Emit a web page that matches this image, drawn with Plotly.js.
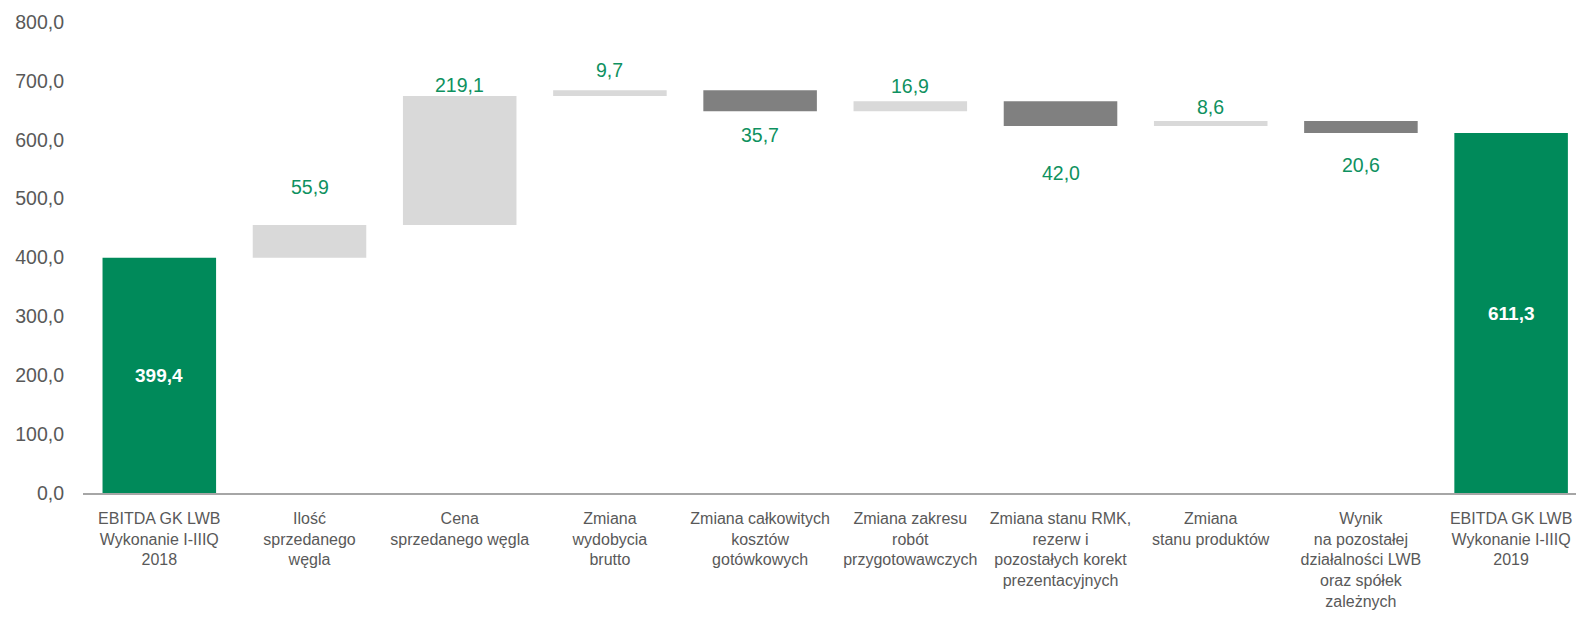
<!DOCTYPE html>
<html>
<head>
<meta charset="utf-8">
<script src="https://cdn.plot.ly/plotly-3.0.1.min.js"></script>
<style>html,body{margin:0;padding:0;background:#fff;}#chart{width:1576px;height:617px;}</style>
</head>
<body>
<div id="chart"></div>
<script>
const categories = [
  "EBITDA GK LWB<br>Wykonanie I-IIIQ<br>2018",
  "Ilość<br>sprzedanego<br>węgla",
  "Cena<br>sprzedanego węgla",
  "Zmiana<br>wydobycia<br>brutto",
  "Zmiana całkowitych<br>kosztów<br>gotówkowych",
  "Zmiana zakresu<br>robót<br>przygotowawczych",
  "Zmiana stanu RMK,<br>rezerw i<br>pozostałych korekt<br>prezentacyjnych",
  "Zmiana<br>stanu produktów",
  "Wynik<br>na pozostałej<br>działalności LWB<br>oraz spółek<br>zależnych",
  "EBITDA GK LWB<br>Wykonanie I-IIIQ<br>2019"
];
const measures = ["absolute","relative","relative","relative","relative","relative","relative","relative","relative","total"];
const values = [399.4, 55.9, 219.1, 9.7, -35.7, 16.9, -42.0, 8.6, -20.6, 611.3];
const yTicks = [0, 100, 200, 300, 400, 500, 600, 700, 800];
// label vertical offsets (px) relative to bar end
const labelShift = [0, 38, 11, 20, -24, 15.5, -47, 14, -32, 0];

const GREEN = "#008A5A";
const LABEL_GREEN = "#0E9160";
const FONT = "Liberation Sans, Arial, sans-serif";
const fmt = v => Math.abs(v).toFixed(1).replace(".", ",");

const trace = {
  type: "waterfall",
  x: categories,
  y: values,
  measure: measures,
  increasing: {marker: {color: "#D9D9D9"}},
  decreasing: {marker: {color: "#808080"}},
  totals: {marker: {color: GREEN}},
  connector: {visible: false},
  textinfo: "none",
  hoverinfo: "skip"
};

const annotations = [];
let run = 0;
values.forEach((v, i) => {
  if (measures[i] === "absolute") {
    run = v;
    annotations.push({x: categories[i], y: v / 2, text: "<b>" + fmt(v) + "</b>", showarrow: false,
      font: {family: FONT, size: 19, color: "#FFFFFF"}});
  } else if (measures[i] === "total") {
    annotations.push({x: categories[i], y: run / 2, text: "<b>" + fmt(run) + "</b>", showarrow: false,
      font: {family: FONT, size: 19, color: "#FFFFFF"}});
  } else {
    run += v;
    annotations.push({x: categories[i], y: run, yshift: labelShift[i], text: fmt(v), showarrow: false,
      font: {family: FONT, size: 19.5, color: LABEL_GREEN}});
  }
});

const layout = {
  width: 1576, height: 617,
  margin: {l: 83, r: 0, t: 22, b: 124, pad: 0},
  paper_bgcolor: "#FFFFFF", plot_bgcolor: "#FFFFFF",
  separators: ", ",
  showlegend: false,
  waterfallgap: 0.244,
  font: {family: FONT, color: "#595959"},
  xaxis: {
    type: "category",
    range: [-0.508, 9.432],
    showgrid: false, zeroline: false,
    showline: true, linecolor: "#A6A6A6", linewidth: 1.5,
    ticks: "", ticklabelstandoff: 10,
    tickfont: {size: 16, color: "#595959"},
    fixedrange: true
  },
  yaxis: {
    range: [0, 800],
    tickvals: yTicks,
    tickformat: ".1f",
    showgrid: false, zeroline: false, showline: false,
    ticks: "", ticklabelstandoff: 18,
    tickfont: {size: 19.5, color: "#595959"},
    fixedrange: true
  },
  annotations: annotations
};

Plotly.newPlot("chart", [trace], layout, {displayModeBar: false, staticPlot: true});
</script>
</body>
</html>
